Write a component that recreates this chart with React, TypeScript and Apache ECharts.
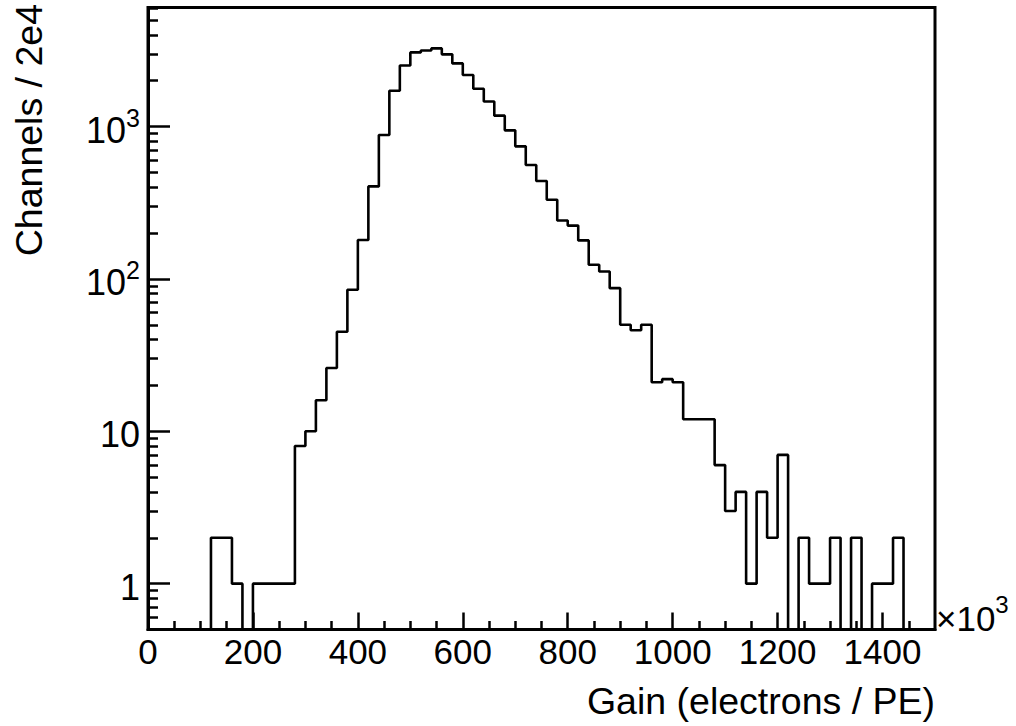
import React, { useEffect, useRef } from "react";
import * as echarts from "echarts";

// Histogram: bin width 20 (x10^3 electrons/PE), range 0..1500
const binWidth = 20;
const xMin = 0;
const xMax = 1500;
const yMin = 0.5;
const yMax = 6050;

const counts = [
  0, 0, 0, 0, 0, 0, 2, 2, 1, 0,
  1, 1, 1, 1, 8, 10, 16, 26, 45, 85,
  180, 405, 880, 1720, 2520, 3070, 3160, 3260, 2980, 2600,
  2180, 1770, 1460, 1180, 945, 742, 560, 439, 331, 242,
  224, 179, 124, 112, 87, 50, 46, 50, 21, 22,
  21, 12, 12, 12, 6, 3, 4, 1, 4, 2,
  7, 0, 2, 1, 1, 2, 0, 2, 0, 1,
  1, 2, 0, 0, 0,
];

const xMajorTicks = [0, 200, 400, 600, 800, 1000, 1200, 1400];
const xMinorTicks = [
  50, 100, 150, 250, 300, 350, 450, 500, 550, 650, 700, 750, 850, 900, 950,
  1050, 1100, 1150, 1250, 1300, 1350, 1450,
];
const yMajorTicks = [1, 10, 100, 1000];
const yMinorTicks = [
  0.6, 0.7, 0.8, 0.9,
  2, 3, 4, 5, 6, 7, 8, 9,
  20, 30, 40, 50, 60, 70, 80, 90,
  200, 300, 400, 500, 600, 700, 800, 900,
  2000, 3000, 4000, 5000, 6000,
];

const xTitle = "Gain (electrons / PE)";
const yTitle = "Channels / 2e4";

const FONT = "'Liberation Sans', Arial, Helvetica, sans-serif";

export default function App() {
  const ref = useRef<HTMLDivElement>(null);

  useEffect(() => {
    if (!ref.current) return;
    const chart = echarts.init(ref.current, undefined, { renderer: "svg" });

    const stepData: [number, number][] = [];
    counts.forEach((c, i) => {
      const v = Math.max(c, yMin);
      stepData.push([i * binWidth, v]);
      stepData.push([(i + 1) * binWidth, v]);
    });

    const gridPos = { left: 148, right: 81, top: 7.5, bottom: 96.5 };

    const yLabelFmt = (val: number) => {
      const e = Math.round(Math.log10(val));
      if (e === 0) return "{b|1}";
      if (e === 1) return "{b|10}";
      return `{b|10}{s|${e}}`;
    };

    chart.setOption({
      animation: false,
      backgroundColor: "#fff",
      grid: {
        ...gridPos,
        show: true,
        borderColor: "#000",
        borderWidth: 3,
        backgroundColor: "transparent",
      },
      xAxis: [
        {
          type: "value",
          min: xMin,
          max: xMax,
          interval: 200,
          axisLine: { show: true, lineStyle: { color: "#000", width: 3 } },
          axisTick: {
            show: true,
            inside: true,
            length: 17,
            customValues: xMajorTicks,
            lineStyle: { color: "#000", width: 2.5 },
          },
          axisLabel: {
            show: true,
            customValues: xMajorTicks,
            formatter: (v: number) => String(v),
            margin: 4,
            color: "#000",
            fontSize: 35,
            fontFamily: FONT,
          },
          splitLine: { show: false },
        },
        {
          type: "value",
          min: xMin,
          max: xMax,
          interval: 50,
          position: "bottom",
          axisLine: { show: false },
          axisTick: {
            show: true,
            inside: true,
            length: 8.5,
            customValues: xMinorTicks,
            lineStyle: { color: "#000", width: 2.5 },
          },
          axisLabel: { show: false },
          splitLine: { show: false },
        },
      ],
      yAxis: [
        {
          type: "log",
          min: yMin,
          max: yMax,
          logBase: 10,
          axisLine: { show: true, lineStyle: { color: "#000", width: 3 } },
          axisTick: {
            show: true,
            inside: true,
            length: 22,
            customValues: yMajorTicks,
            lineStyle: { color: "#000", width: 2.5 },
          },
          axisLabel: {
            show: true,
            customValues: yMajorTicks,
            margin: 8,
            formatter: yLabelFmt,
            rich: {
              b: {
                fontSize: 36,
                fontFamily: FONT,
                color: "#000",
                padding: [7, 0, 0, 0],
              },
              s: {
                fontSize: 25,
                fontFamily: FONT,
                color: "#000",
                verticalAlign: "top",
              },
            },
          },
          splitLine: { show: false },
        },
        {
          type: "log",
          min: yMin,
          max: yMax,
          logBase: 10,
          position: "left",
          axisLine: { show: false },
          axisTick: {
            show: true,
            inside: true,
            length: 10,
            customValues: yMinorTicks,
            lineStyle: { color: "#000", width: 2.5 },
          },
          axisLabel: { show: false },
          splitLine: { show: false },
        },
      ],
      series: [
        {
          type: "line",
          xAxisIndex: 0,
          yAxisIndex: 0,
          data: stepData,
          showSymbol: false,
          symbol: "none",
          lineStyle: { color: "#000", width: 2.6 },
          clip: true,
          z: 5,
        },
      ],
      graphic: [
        {
          type: "text",
          x: 29,
          y: 4,
          rotation: Math.PI / 2,
          style: {
            text: yTitle,
            align: "right",
            verticalAlign: "middle",
            fontSize: 37.5,
            fontFamily: FONT,
            fill: "#000",
          },
        },
        {
          type: "text",
          x: 935,
          y: 701,
          style: {
            text: xTitle,
            align: "right",
            verticalAlign: "middle",
            fontSize: 37.5,
            fontFamily: FONT,
            fill: "#000",
          },
        },
        {
          type: "text",
          x: 936,
          y: 614,
          style: {
            text: "{a|×10}{b|3}",
            align: "left",
            verticalAlign: "middle",
            rich: {
              a: {
                fontSize: 35,
                fontFamily: FONT,
                fill: "#000",
                color: "#000",
                padding: [8, 0, 0, 0],
              },
              b: {
                fontSize: 24,
                fontFamily: FONT,
                fill: "#000",
                color: "#000",
                verticalAlign: "top",
              },
            },
          },
        },
      ],
    });

    return () => chart.dispose();
  }, []);

  return (
    <div
      ref={ref}
      style={{ position: "fixed", left: 0, top: 0, width: 1016, height: 726 }}
    />
  );
}
